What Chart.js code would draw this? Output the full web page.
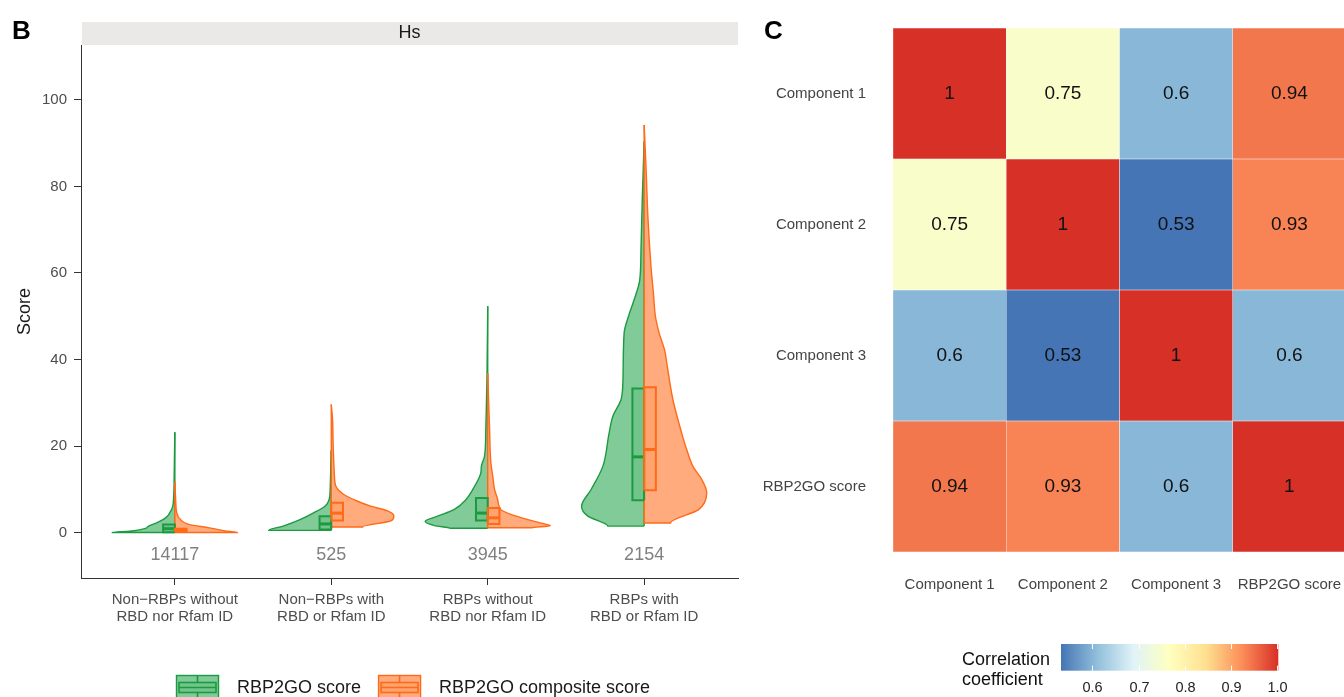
<!DOCTYPE html>
<html lang="en">
<head>
<meta charset="UTF-8" />
<title>RBP2GO scores and component correlations</title>
<script src="https://cdn.jsdelivr.net/npm/chart.js"></script>
<style>
  body {
    margin: 0;
    background: #fff;
    width: 1344px;
    height: 697px;
    overflow: hidden;
    position: relative;
  }
  canvas { position: absolute; top: 0; }
  #violin { left: 0; }
  #heat { left: 750px; }
</style>
</head>
<body>
<canvas id="violin" width="750" height="697"></canvas>
<canvas id="heat" width="600" height="697"></canvas>

<script>
  // ---- panel B data ----
  const categories = [
    ["Non−RBPs without", "RBD nor Rfam ID"],
    ["Non−RBPs with", "RBD or Rfam ID"],
    ["RBPs without", "RBD nor Rfam ID"],
    ["RBPs with", "RBD or Rfam ID"]
  ];
  const counts = [14117, 525, 3945, 2154];
  const seriesNames = ["RBP2GO score", "RBP2GO composite score"];
  const facetLabel = "Hs";
  const yTicks = [0, 20, 40, 60, 80, 100];

  // box hinges per group: [lower, median, upper]
  const scoreBoxes = [[0.05, 0.9, 1.85], [0.7, 2.0, 3.8], [2.8, 4.5, 8.0], [7.5, 17.5, 33.3]];
  const compositeBoxes = [[0.2, 0.45, 0.9], [2.8, 4.5, 6.9], [2.0, 3.4, 5.7], [9.8, 19.2, 33.6]];

  // violin outlines: [score, half width relative to the widest point]
  const scoreDensity = [
    [[0, 1.0], [0.3, 0.72], [0.9, 0.48], [1.5, 0.42], [2.2, 0.3], [3, 0.19], [3.8, 0.12], [4.6, 0.08], [6, 0.035], [8, 0.02], [12, 0.012], [18, 0.006], [23.2, 0]],
    [[0.5, 1.0], [1.5, 0.77], [3, 0.5], [4.5, 0.29], [6.1, 0.1], [7.6, 0.035], [10, 0.018], [14, 0.01], [19, 0]],
    [[1.0, 0.6], [1.6, 0.85], [2.6, 1.0], [3.8, 0.8], [5.3, 0.54], [7.6, 0.35], [10.7, 0.21], [13.8, 0.11], [15.4, 0.1], [17.7, 0.05], [23.8, 0.03], [35.4, 0.012], [52.3, 0]],
    [[1.5, 0.58], [3.8, 0.9], [6.1, 1.0], [9.9, 0.85], [15.3, 0.66], [23, 0.56], [26.9, 0.5], [30.7, 0.37], [34.6, 0.34], [46.1, 0.32], [50, 0.25], [53.8, 0.16], [58.4, 0.07], [65.4, 0.05], [76.9, 0.03], [90.4, 0]]
  ];
  const compositeDensity = [
    [[0, 1.0], [0.4, 0.8], [1.1, 0.55], [1.85, 0.23], [3, 0.09], [4.6, 0.03], [7, 0.015], [11.8, 0]],
    [[1.3, 0.5], [2.7, 0.95], [3.8, 1.0], [5.0, 0.9], [6.1, 0.63], [7.3, 0.41], [8.8, 0.2], [10.8, 0.07], [13.1, 0.05], [16.2, 0.04], [20, 0.03], [26.2, 0.02], [29.6, 0]],
    [[1.1, 0.7], [1.6, 1.0], [2.2, 0.85], [3.0, 0.64], [4.2, 0.37], [5.3, 0.21], [7.6, 0.16], [9.9, 0.11], [13.1, 0.08], [16.2, 0.05], [23.8, 0.03], [31.5, 0.012], [36.9, 0]],
    [[2.2, 0.42], [5.3, 0.87], [9.2, 1.0], [12.3, 0.92], [15.3, 0.78], [19.2, 0.68], [23, 0.6], [30.7, 0.46], [38.4, 0.37], [42, 0.33], [46.1, 0.24], [50, 0.18], [55, 0.15], [61.4, 0.11], [73, 0.06], [84.5, 0.03], [94.2, 0]]
  ];

  // ---- panel C data ----
  const components = ["Component 1", "Component 2", "Component 3", "RBP2GO score"];
  const correlations = [
    [1, 0.75, 0.6, 0.94],
    [0.75, 1, 0.53, 0.93],
    [0.6, 0.53, 1, 0.6],
    [0.94, 0.93, 0.6, 1]
  ];
  const legendTicks = [0.6, 0.7, 0.8, 0.9, 1.0];

  const FONT = '"Liberation Sans", Arial, Helvetica, sans-serif';
  Chart.defaults.font.family = FONT;

  const green = { line: "#1c9a40", fill: "#80cb98", box: "rgba(28,154,64,0.14)" };
  const orange = { line: "#ff6a17", fill: "#ffab7e", box: "rgba(255,106,23,0.12)" };
  const VIOLIN_HALF = 0.4;
  const BOX_W = 0.075;
  const COUNT_Y = -5.1;

  // ---- build violin / box datasets ----
  const violinSets = [];
  function add(ds) {
    ds.order = -violinSets.length; // later ones on top
    ds.pointRadius = 0;
    ds.pointHoverRadius = 0;
    violinSets.push(ds);
  }

  categories.forEach((_, i) => {
    const c = i + 1;
    const halves = [
      [scoreDensity[i], scoreBoxes[i], green, -1],
      [compositeDensity[i], compositeBoxes[i], orange, 1]
    ];
    halves.forEach(([dens, , col, side]) => {
      const y0 = dens[0][0];
      const y1 = dens[dens.length - 1][0];
      add({
        data: [{ x: c, y: y0 }].concat(dens.map(([y, w]) => ({ x: c + side * VIOLIN_HALF * w, y }))),
        borderColor: col.line,
        backgroundColor: col.fill,
        borderWidth: 1.4,
        fill: { value: c },
        cubicInterpolationMode: "monotone"
      });
      add({
        data: [{ x: c, y: y0 }, { x: c, y: y1 }],
        borderColor: col.line,
        borderWidth: 1.4,
        fill: false
      });
    });
    halves.forEach(([, box, col, side]) => {
      const [q1, med, q3] = box;
      const xe = c + side * BOX_W;
      add({
        data: [{ x: c, y: q1 }, { x: xe, y: q1 }, { x: xe, y: q3 }, { x: c, y: q3 }, { x: c, y: q1 }],
        borderColor: col.line,
        backgroundColor: col.box,
        borderWidth: 2,
        borderJoinStyle: "miter",
        fill: "shape",
        tension: 0
      });
      add({
        data: [{ x: c, y: med }, { x: xe, y: med }],
        borderColor: col.line,
        borderWidth: 3,
        fill: false
      });
    });
  });

  const violinDecor = {
    id: "violinDecor",
    beforeDraw(chart) {
      const { ctx, chartArea: a } = chart;
      ctx.save();
      // facet strip
      ctx.fillStyle = "#ebe8e8";
      ctx.fillRect(a.left + 1, 22, a.right - a.left - 1, a.top - 22);
      ctx.fillStyle = "#1a1a1a";
      ctx.font = `18px ${FONT}`;
      ctx.textAlign = "center";
      ctx.textBaseline = "middle";
      ctx.fillText(facetLabel, (a.left + a.right) / 2, 33.5);
      // panel letter
      ctx.fillStyle = "#000";
      ctx.font = `bold 26px ${FONT}`;
      ctx.textAlign = "left";
      ctx.textBaseline = "alphabetic";
      ctx.fillText("B", 12, 38.5);
      // y title
      ctx.translate(25, (a.top + a.bottom) / 2);
      ctx.rotate(-Math.PI / 2);
      ctx.fillStyle = "#1a1a1a";
      ctx.font = `18px ${FONT}`;
      ctx.textAlign = "center";
      ctx.textBaseline = "middle";
      ctx.fillText("Score", 0, 0);
      ctx.restore();
    },
    afterDatasetsDraw(chart) {
      const { ctx, scales } = chart;
      ctx.save();
      ctx.fillStyle = "#808080";
      ctx.font = `18px ${FONT}`;
      ctx.textAlign = "center";
      ctx.textBaseline = "middle";
      counts.forEach((n, i) => {
        ctx.fillText(String(n), scales.x.getPixelForValue(i + 1), scales.y.getPixelForValue(COUNT_Y));
      });
      ctx.restore();
    },
    afterDraw(chart) {
      const { ctx } = chart;
      ctx.save();
      ctx.font = `18px ${FONT}`;
      ctx.textBaseline = "middle";
      let x = 176;
      [green, orange].forEach((col, k) => {
        const top = 675, w = 43, h = 30;
        ctx.fillStyle = col.fill;
        ctx.fillRect(x, top, w, h);
        ctx.strokeStyle = col.line;
        ctx.lineWidth = 1.4;
        ctx.strokeRect(x + 0.5, top + 0.5, w - 1, h);
        ctx.fillStyle = col.box;
        ctx.fillRect(x + 3, top + 7.5, w - 6, 10);
        ctx.lineWidth = 1.6;
        ctx.strokeRect(x + 3, top + 7.5, w - 6, 10);
        ctx.beginPath();
        ctx.moveTo(x + 3, top + 12.5);
        ctx.lineTo(x + w - 3, top + 12.5);
        ctx.moveTo(x + w / 2, top);
        ctx.lineTo(x + w / 2, top + 7.5);
        ctx.moveTo(x + w / 2, top + 17.5);
        ctx.lineTo(x + w / 2, top + 25);
        ctx.stroke();
        ctx.fillStyle = "#1a1a1a";
        ctx.textAlign = "left";
        const lx = x + w + 18;
        ctx.fillText(seriesNames[k], lx, 688);
        x = lx + ctx.measureText(seriesNames[k]).width + 17;
      });
      ctx.restore();
    }
  };

  new Chart(document.getElementById("violin"), {
    type: "line",
    data: { datasets: violinSets },
    options: {
      indexAxis: "y",
      responsive: false,
      animation: false,
      events: [],
      layout: { padding: { left: 0, right: 12, top: 45, bottom: 0 } },
      plugins: { legend: { display: false }, tooltip: { enabled: false } },
      scales: {
        x: {
          type: "linear",
          position: "bottom",
          min: 0.4,
          max: 4.6,
          afterBuildTicks: (s) => { s.ticks = categories.map((_, i) => ({ value: i + 1 })); },
          afterFit: (s) => { s.height = 119; s.paddingLeft = 0; s.paddingRight = 0; },
          ticks: {
            callback: (v) => categories[Math.round(v) - 1],
            color: "#4d4d4d",
            font: { size: 15, lineHeight: 1.1 },
            padding: 7,
            maxRotation: 0,
            autoSkip: false
          },
          grid: { drawOnChartArea: false, tickLength: 7, color: "#333" },
          border: { display: true, color: "#333", width: 1 }
        },
        y: {
          type: "linear",
          position: "left",
          min: -10.5,
          max: 112.7,
          afterBuildTicks: (s) => { s.ticks = yTicks.map((v) => ({ value: v })); },
          afterFit: (s) => { s.width = 81; s.paddingTop = 0; s.paddingBottom = 0; },
          ticks: {
            callback: (v) => String(v),
            color: "#4d4d4d",
            font: { size: 15 },
            padding: 7
          },
          grid: { drawOnChartArea: false, tickLength: 7, color: "#333" },
          border: { display: true, color: "#333", width: 1 }
        }
      }
    },
    plugins: [violinDecor]
  });

  // ---- panel C: heatmap ----
  const heatPalette = ["#4575B4", "#91BFDB", "#E0F3F8", "#FFFFBF", "#FEE090", "#FC8D59", "#D73027"];
  const corrMin = Math.min(...correlations.flat());
  const corrMax = Math.max(...correlations.flat());

  function hexRgb(h) {
    return [1, 3, 5].map((k) => parseInt(h.slice(k, k + 2), 16));
  }
  function heatColor(v) {
    const t = (v - corrMin) / (corrMax - corrMin) * (heatPalette.length - 1);
    const k = Math.min(Math.floor(t), heatPalette.length - 2);
    const f = t - k;
    const a = hexRgb(heatPalette[k]);
    const b = hexRgb(heatPalette[k + 1]);
    const c = a.map((av, j) => Math.round(av + (b[j] - av) * f));
    return `rgb(${c[0]},${c[1]},${c[2]})`;
  }

  // bottom row first in the stack
  const rowOrder = components.map((_, r) => r).reverse();

  const heatDecor = {
    id: "heatDecor",
    afterDatasetsDraw(chart) {
      const { ctx } = chart;
      ctx.save();
      ctx.fillStyle = "#111";
      ctx.font = `19px ${FONT}`;
      ctx.textAlign = "center";
      ctx.textBaseline = "middle";
      chart.data.datasets.forEach((ds, i) => {
        chart.getDatasetMeta(i).data.forEach((bar, j) => {
          ctx.fillText(String(ds.corr[j]), bar.x, (bar.y + bar.base) / 2);
        });
      });
      ctx.restore();
    },
    afterDraw(chart) {
      const { ctx } = chart;
      ctx.save();
      // panel letter
      ctx.fillStyle = "#000";
      ctx.font = `bold 26px ${FONT}`;
      ctx.textBaseline = "alphabetic";
      ctx.fillText("C", 14, 38.5);
      // colour bar
      const bx0 = 311, bx1 = 528.3, by0 = 644, by1 = 670.7;
      const grad = ctx.createLinearGradient(bx0, 0, bx1, 0);
      heatPalette.forEach((c, k) => grad.addColorStop(k / (heatPalette.length - 1), c));
      ctx.fillStyle = grad;
      ctx.fillRect(bx0, by0, bx1 - bx0, by1 - by0);
      ctx.strokeStyle = "#fff";
      ctx.lineWidth = 1;
      ctx.fillStyle = "#222";
      ctx.font = `14.5px ${FONT}`;
      ctx.textAlign = "center";
      ctx.textBaseline = "middle";
      legendTicks.forEach((t) => {
        const x = Math.round(bx0 + (t - corrMin) / (corrMax - corrMin) * (bx1 - bx0)) - 0.5;
        ctx.beginPath();
        ctx.moveTo(x, by0);
        ctx.lineTo(x, by0 + 5);
        ctx.moveTo(x, by1 - 5);
        ctx.lineTo(x, by1);
        ctx.stroke();
        ctx.fillText(t.toFixed(1), x, 688);
      });
      ctx.fillStyle = "#111";
      ctx.font = `18px ${FONT}`;
      ctx.textAlign = "left";
      ctx.fillText("Correlation", 212, 660.5);
      ctx.fillText("coefficient", 212, 680);
      ctx.restore();
    }
  };

  new Chart(document.getElementById("heat"), {
    type: "bar",
    data: {
      labels: components,
      datasets: rowOrder.map((r) => ({
        label: components[r],
        data: components.map(() => 1),
        corr: correlations[r],
        backgroundColor: correlations[r].map(heatColor),
        borderColor: "rgba(255,255,255,0.45)",
        borderWidth: 0.5,
        borderSkipped: false,
        barPercentage: 1,
        categoryPercentage: 1
      }))
    },
    options: {
      responsive: false,
      animation: false,
      events: [],
      layout: { padding: { left: 0, right: 4, top: 28, bottom: 0 } },
      plugins: { legend: { display: false }, tooltip: { enabled: false } },
      scales: {
        x: {
          stacked: true,
          grid: { display: false, drawTicks: false },
          border: { display: false },
          afterFit: (s) => { s.height = 145; s.paddingLeft = 0; s.paddingRight = 0; },
          ticks: { color: "#444", font: { size: 15 }, padding: 24, maxRotation: 0 }
        },
        y: {
          stacked: true,
          min: 0,
          max: components.length,
          grid: { display: false, drawTicks: false },
          border: { display: false },
          afterBuildTicks: (s) => { s.ticks = components.map((_, i) => ({ value: i + 0.5 })); },
          afterFit: (s) => { s.width = 143; s.paddingTop = 0; s.paddingBottom = 0; },
          ticks: {
            callback: (v) => components[components.length - 1 - Math.floor(v)],
            color: "#444",
            font: { size: 15 },
            padding: 27
          }
        }
      }
    },
    plugins: [heatDecor]
  });
</script>
</body>
</html>
